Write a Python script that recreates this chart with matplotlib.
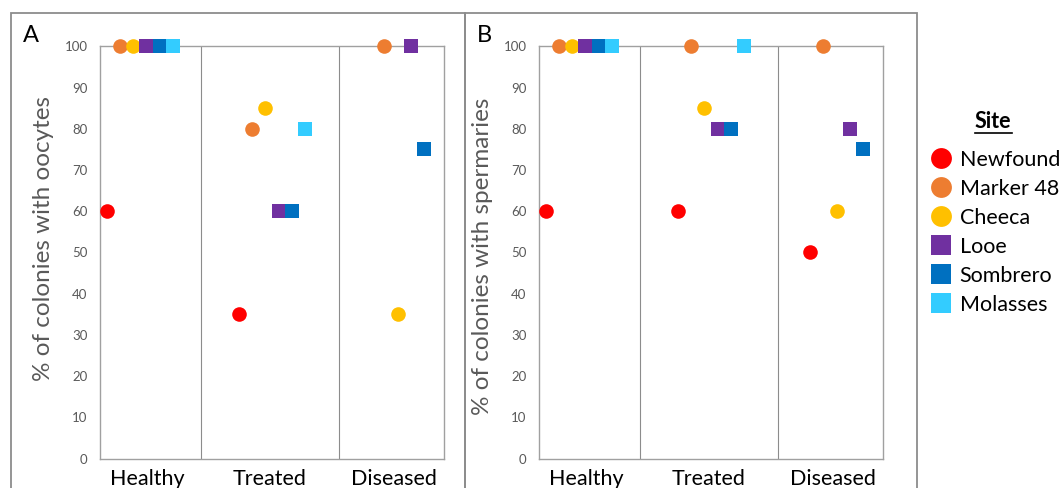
import numpy as np
import matplotlib
matplotlib.use("Agg")
import matplotlib.pyplot as plt
from matplotlib.lines import Line2D
from matplotlib.patches import Rectangle

plt.rcParams['font.family'] = ['Lato', 'DejaVu Sans']

groups = ["Healthy", "Treated", "Diseased"]
sites = ["Newfound", "Marker 48", "Cheeca", "Looe", "Sombrero", "Molasses"]
site_colors = ["#FF0000", "#ED7D31", "#FFC000", "#7030A0", "#0070C0", "#33CCFF"]
site_markers = ["o", "o", "o", "s", "s", "s"]

# % of colonies per site, one value per group (Healthy, Treated, Diseased); nan = no data
oocytes = {
    "Newfound":  [60, 35, np.nan],
    "Marker 48": [100, 80, 100],
    "Cheeca":    [100, 85, 35],
    "Looe":      [100, 60, 100],
    "Sombrero":  [100, 60, 75],
    "Molasses":  [100, 80, np.nan],
}
spermaries = {
    "Newfound":  [60, 60, 50],
    "Marker 48": [100, 100, 100],
    "Cheeca":    [100, 85, 60],
    "Looe":      [100, 80, 80],
    "Sombrero":  [100, 80, 75],
    "Molasses":  [100, 100, np.nan],
}
yticks = [0, 10, 20, 30, 40, 50, 60, 70, 80, 90, 100]

# x layout (Excel-style scatter): each group starts at base, sites offset by 1
group_base = np.array([0.5, 10.5, 20.5])
separators = [7.65, 18.1]
label_pos = [3.6, 12.8, 22.25]

W, H = 1064, 488
fig = plt.figure(figsize=(W / 100, H / 100), dpi=100)

grey = "#595959"
spine_c = "#A0A0A0"


def panel(left_px, data, ylabel, ylab_y, letter, letter_x):
    ax = fig.add_axes([left_px / W, (H - 458.5) / H, 344 / W, 412 / H])
    for i, s in enumerate(sites):
        ax.plot(group_base + i, data[s], linestyle="none", marker=site_markers[i],
                color=site_colors[i], markersize=10.5 if site_markers[i] == "o" else 10,
                markeredgewidth=0, clip_on=False, zorder=3)
    for xs in separators:
        ax.axvline(xs, color="#8C8C8C", lw=0.8, zorder=1)
    ax.set_xlim(0, 26)
    ax.set_ylim(0, 100)
    ax.set_yticks(yticks)
    ax.tick_params(axis="y", length=0, pad=9, labelsize=9.5, labelcolor=grey)
    ax.set_xticks(label_pos)
    ax.set_xticklabels(groups, fontsize=15.5, color="black")
    ax.tick_params(axis="x", length=0, pad=7.5)
    for sp in ax.spines.values():
        sp.set_color(spine_c)
        sp.set_linewidth(1.0)
    ax.set_ylabel(ylabel, fontsize=17.5, color=grey)
    ax.yaxis.set_label_coords(-0.135, ylab_y)
    fig.text(letter_x / W, (H - 35) / H, letter, fontsize=17, ha="center", va="center")
    return ax


panel(100, oocytes, "% of colonies with oocytes", 0.533, "A", 31)
panel(539, spermaries, "% of colonies with spermaries", 0.49, "B", 484)

# panel frames
for x0, x1 in [(11, 465), (465, 917)]:
    fig.add_artist(Rectangle((x0 / W, -0.2), (x1 - x0) / W, (H - 13) / H + 0.2,
                             transform=fig.transFigure, fill=False,
                             edgecolor="#8C8C8C", lw=1.3))

# legend
handles = [Line2D([], [], linestyle="none", marker=site_markers[i], color=site_colors[i],
                  markersize=15, markeredgewidth=0) for i in range(len(sites))]
fig.legend(handles, sites, loc="upper left", bbox_to_anchor=(922 / W, (H - 141) / H),
           frameon=False, fontsize=15.5, handletextpad=0.35, labelspacing=0.42,
           borderaxespad=0, handlelength=1.0)
fig.text(993 / W, (H - 122) / H, "Site", fontsize=15.5, fontweight="bold",
         ha="center", va="center")
fig.add_artist(Line2D([975 / W, 1012 / W], [(H - 133) / H] * 2,
                      transform=fig.transFigure, color="black", lw=1.2))

fig.savefig("out.png", dpi=100)
